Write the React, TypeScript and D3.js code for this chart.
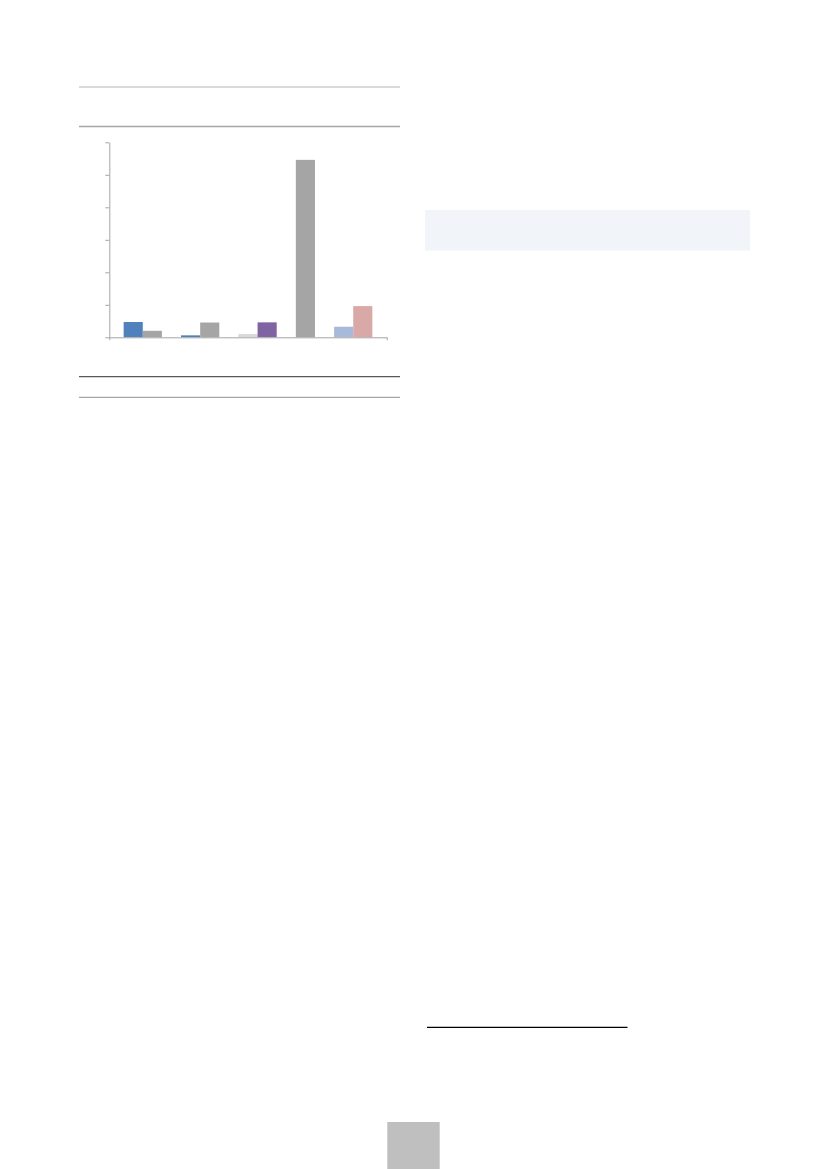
import { useEffect, useRef } from 'react';
import * as d3 from 'd3';

// values, y axis runs 0..60
const categories = ['A', 'B', 'C', 'D', 'E'];
const firstBar = [4.7, 0.6, 1.0, 54.6, 3.25];
const secondBar: (number | null)[] = [2.0, 4.55, 4.6, null, 9.6];
const firstColors = ['#4f81bd', '#4f81bd', '#d9d9d9', '#a5a5a5', '#a8bad9'];
const secondColors: (string | null)[] = ['#a5a5a5', '#a5a5a5', '#8064a2', null, '#d9a9a8'];
const yTicks = [0, 10, 20, 30, 40, 50, 60];

type Column = { key: string; value: number | null; color: string | null };

const PAGE_W = 827;
const PAGE_H = 1169;

export default function App() {
    const svgRef = useRef<SVGSVGElement | null>(null);

    useEffect(() => {
        if (!svgRef.current) {
            return;
        }
        const svg = d3.select(svgRef.current);
        svg.selectAll('*').remove();

        // page decorations
        const rules = [
            { x1: 79, x2: 400, y: 87, stroke: '#dadada', width: 2 },
            { x1: 79, x2: 400, y: 126.5, stroke: '#a6a6a6', width: 1.3 },
            { x1: 79, x2: 400, y: 376.7, stroke: '#5a5a5a', width: 1.2 },
            { x1: 79, x2: 400, y: 397.3, stroke: '#a6a6a6', width: 1.2 },
            { x1: 427, x2: 627.5, y: 1027.3, stroke: '#000000', width: 1.2 },
        ];
        svg.append('g')
            .selectAll('line')
            .data(rules)
            .join('line')
            .attr('x1', (d) => d.x1)
            .attr('x2', (d) => d.x2)
            .attr('y1', (d) => d.y)
            .attr('y2', (d) => d.y)
            .attr('stroke', (d) => d.stroke)
            .attr('stroke-width', (d) => d.width);

        svg.append('rect')
            .attr('x', 425)
            .attr('y', 210)
            .attr('width', 325)
            .attr('height', 40.5)
            .attr('fill', '#f1f4f9');

        svg.append('rect')
            .attr('x', 387.3)
            .attr('y', 1122)
            .attr('width', 52.4)
            .attr('height', 47)
            .attr('fill', '#bfbfbf');

        // chart
        const left = 109.3;
        const right = 386.7;
        const top = 142.3;
        const bottom = 337.3;

        const columns: Column[] = [];
        categories.forEach((cat, i) => {
            columns.push({ key: `${cat}-1`, value: firstBar[i], color: firstColors[i] });
            if (secondBar[i] !== null) {
                columns.push({ key: `${cat}-2`, value: secondBar[i], color: secondColors[i] });
            }
            if (i < categories.length - 1) {
                columns.push({ key: `${cat}-gap`, value: null, color: null });
            }
        });

        const x = d3
            .scaleBand<string>()
            .domain(columns.map((c) => c.key))
            .range([left, right])
            .paddingInner(0)
            .paddingOuter(0.75);

        const y = d3.scaleLinear().domain([0, 60]).range([bottom, top]);

        const chart = svg.append('g');

        chart
            .append('g')
            .selectAll('rect')
            .data(columns.filter((c) => c.value !== null))
            .join('rect')
            .attr('x', (d) => x(d.key) ?? 0)
            .attr('width', x.bandwidth())
            .attr('y', (d) => y(d.value as number))
            .attr('height', (d) => bottom - y(d.value as number))
            .attr('fill', (d) => d.color as string);

        const yAxis = chart
            .append('g')
            .attr('transform', `translate(${left},0)`)
            .call(
                d3
                    .axisLeft(y)
                    .tickValues(yTicks)
                    .tickSize(4)
                    .tickSizeOuter(0)
                    .tickFormat(() => '')
            );
        yAxis.selectAll('path, line').attr('stroke', '#a6a6a6').attr('stroke-width', 1);

        const xEnds = d3.scaleLinear().domain([0, 1]).range([left, right]);
        const xAxis = chart
            .append('g')
            .attr('transform', `translate(0,${bottom})`)
            .call(
                d3
                    .axisBottom(xEnds)
                    .tickValues([0, 1])
                    .tickSize(3)
                    .tickSizeOuter(0)
                    .tickFormat(() => '')
            );
        xAxis.selectAll('path, line').attr('stroke', '#a6a6a6').attr('stroke-width', 1);
    }, []);

    return (
        <div style={{ position: 'absolute', left: 0, top: 0, width: PAGE_W, height: PAGE_H, background: '#ffffff' }}>
            <svg ref={svgRef} width={PAGE_W} height={PAGE_H} viewBox={`0 0 ${PAGE_W} ${PAGE_H}`} />
        </div>
    );
}
